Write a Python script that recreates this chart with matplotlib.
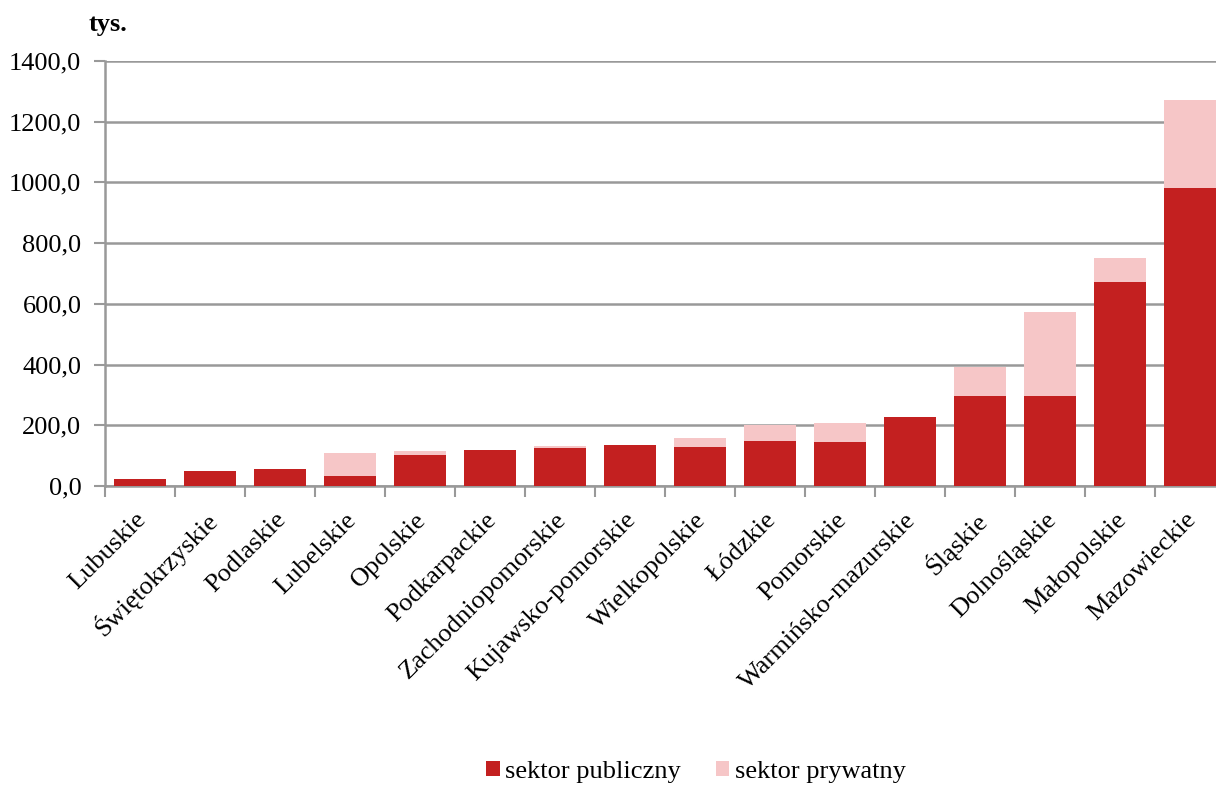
import matplotlib
matplotlib.use("Agg")
import matplotlib.pyplot as plt
import numpy as np

categories = ["Lubuskie", "Świętokrzyskie", "Podlaskie", "Lubelskie", "Opolskie",
              "Podkarpackie", "Zachodniopomorskie", "Kujawsko-pomorskie", "Wielkopolskie",
              "Łódzkie", "Pomorskie", "Warmińsko-mazurskie", "Śląskie", "Dolnośląskie",
              "Małopolskie", "Mazowieckie"]
publiczny = [23, 48, 55, 33, 102, 118, 125, 135, 127, 147, 145, 226, 296, 296, 672, 982]
prywatny_total = [23, 48, 55, 108, 114, 118, 131, 135, 157, 202, 207, 226, 392, 572, 752, 1270]
prywatny = [t - p for t, p in zip(prywatny_total, publiczny)]
yticks = [0, 200, 400, 600, 800, 1000, 1200, 1400]

plt.rcParams['font.family'] = ['Liberation Serif', 'DejaVu Serif']
FS = 19

W, H = 1216, 785
fig = plt.figure(figsize=(W/100, H/100), dpi=100)
ax = fig.add_axes([105/W, (H-486)/H, (1225-105)/W, (486-61)/H])

x = np.arange(len(categories))
c_pub = "#C32020"
c_prv = "#F6C6C7"
ax.bar(x, publiczny, width=0.73, color=c_pub, label="sektor publiczny", zorder=3)
ax.bar(x, prywatny, width=0.73, bottom=publiczny, color=c_prv, label="sektor prywatny", zorder=3)

ax.set_xlim(-0.5, len(categories) - 0.5)
ax.set_ylim(0, 1400)
ax.set_yticks(yticks)
ax.set_yticklabels([f"{v:.1f}".replace(".", ",") for v in yticks], fontsize=FS)
ax.yaxis.grid(True, color="#999999", linewidth=1.8, zorder=0)
ax.set_axisbelow(True)

ax.set_xticks(x + 0.04)
ax.set_xticklabels(categories, rotation=45, ha="right", va="center",
                   rotation_mode="anchor", fontsize=FS)
ax.tick_params(axis="x", which="major", length=0, pad=22)
ax.set_xticks(np.arange(-0.5, len(categories), 1.0), minor=True)
ax.tick_params(axis="x", which="minor", length=8, width=1.5, color="#999999", direction="out")
ax.tick_params(axis="y", length=8, width=1.5, color="#999999", pad=9)

for s in ["top", "right"]:
    ax.spines[s].set_visible(False)
for s in ["left", "bottom"]:
    ax.spines[s].set_color("#999999")
    ax.spines[s].set_linewidth(1.8)

fig.text(108/W, 1 - 25/H, "tys.", fontsize=FS, fontweight="bold", ha="center", va="center")

fig.legend(loc="center", bbox_to_anchor=(696/W, 1 - 772/H), ncol=2, frameon=False,
           fontsize=FS, handlelength=0.5, handleheight=0.5, handletextpad=0.2,
           columnspacing=1.35)

fig.savefig("out.png", dpi=100)
